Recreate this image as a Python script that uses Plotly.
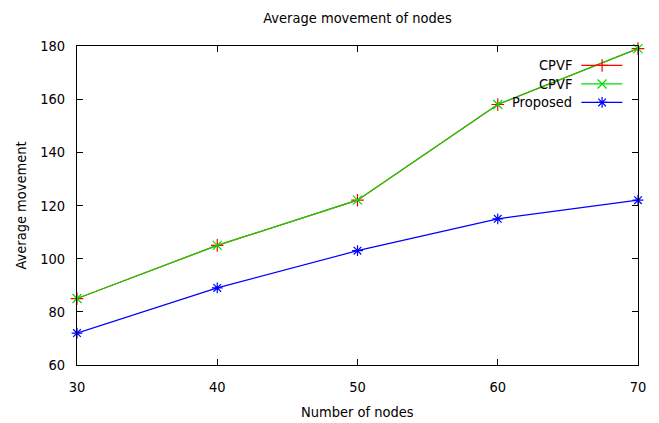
import plotly.graph_objects as go

nodes = [30, 40, 50, 60, 70]
cpvf_red = [85, 105, 122, 158, 179]
cpvf_green = [85, 105, 122, 158, 179]
proposed = [72, 89, 103, 115, 122]

names = ["CPVF", "CPVF", "Proposed"]
colors = ["#ff0000", "#00dd00", "#0000ff"]
symbols = ["cross-thin-open", "x-thin-open", "asterisk-open"]
series = [cpvf_red, cpvf_green, proposed]

FONT = "DejaVu Sans Condensed, DejaVu Sans"
FS = 14.5
W, H = 659, 423
L, R, T, B = 77, 21, 46, 58

fig = go.Figure()
for name, col, sym, ys in zip(names, colors, symbols, series):
    fig.add_trace(go.Scatter(
        x=nodes, y=ys, mode="lines+markers", name=name,
        line=dict(color=col, width=1.2),
        marker=dict(symbol=sym, size=9, color=col, line=dict(color=col, width=1.2)),
        showlegend=False, cliponaxis=False,
    ))

# custom gnuplot-style legend (text right, sample on the right) on a hidden overlay axis
leg_y = [0.939, 0.881, 0.823]
for name, col, sym, yy in zip(names, colors, symbols, leg_y):
    fig.add_trace(go.Scatter(
        x=[0.899, 0.972], y=[yy, yy], xaxis="x2", yaxis="y2", mode="lines",
        line=dict(color=col, width=1.2), showlegend=False, hoverinfo="skip"))
    fig.add_trace(go.Scatter(
        x=[0.936], y=[yy], xaxis="x2", yaxis="y2", mode="markers",
        marker=dict(symbol=sym, size=9, color=col, line=dict(color=col, width=1.2)),
        showlegend=False, hoverinfo="skip"))
    fig.add_annotation(x=0.886, y=yy, xref="x2", yref="y2", text=name,
                       showarrow=False, xanchor="right", yanchor="middle",
                       font=dict(family=FONT, size=FS, color="black"))

# axis titles as annotations (exact placement)
fig.add_annotation(x=0.5, y=-(412 - (H - B)) / (H - T - B), xref="paper", yref="paper",
                   text="Number of nodes", showarrow=False, xanchor="center", yanchor="middle",
                   font=dict(family=FONT, size=FS, color="black"))
fig.add_annotation(x=-(L - 20) / (W - L - R), y=0.5, xref="paper", yref="paper",
                   text="Average movement", showarrow=False, textangle=-90,
                   xanchor="center", yanchor="middle",
                   font=dict(family=FONT, size=FS, color="black"))

axis_common = dict(showline=True, linecolor="black", linewidth=1, mirror="ticks",
                   ticks="inside", ticklen=6, tickcolor="black", showgrid=False,
                   zeroline=False, automargin=False,
                   tickfont=dict(family=FONT, size=FS, color="black"))

fig.update_layout(
    width=W, height=H,
    margin=dict(l=L, r=R, t=T, b=B, autoexpand=False),
    paper_bgcolor="white", plot_bgcolor="white",
    title=dict(text="Average movement of nodes", x=(L + W - R) / 2 / W, xanchor="center",
               y=1 - 18 / H, yanchor="middle",
               font=dict(family=FONT, size=FS, color="black")),
    xaxis=dict(range=[30, 70], tickvals=nodes, ticklabelstandoff=9, **axis_common),
    yaxis=dict(range=[60, 180], tickvals=[60, 80, 100, 120, 140, 160, 180], ticklabelstandoff=8,
               **axis_common),
    xaxis2=dict(range=[0, 1], overlaying="x", visible=False, fixedrange=True),
    yaxis2=dict(range=[0, 1], overlaying="y", visible=False, fixedrange=True),
)

fig.write_html("out.html")
